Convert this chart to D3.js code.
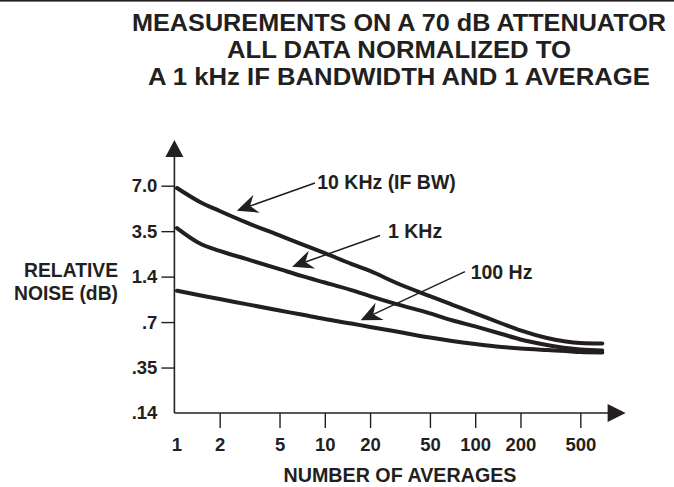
<!DOCTYPE html>
<html><head><meta charset="utf-8">
<script src="https://cdn.jsdelivr.net/npm/d3@7"></script>
<style>body{margin:0;background:#fff}svg{display:block;font-family:"Liberation Sans",Arial,Helvetica,sans-serif;font-weight:bold}</style>
</head><body><svg id="c" width="674" height="487"></svg>
<script>
// ---- data ----
const titleLines = ["MEASUREMENTS ON A 70 dB ATTENUATOR", "ALL DATA NORMALIZED TO", "A 1 kHz IF BANDWIDTH AND 1 AVERAGE"];
const averages  = [1.04, 1.5, 2, 3, 5, 7, 10, 15, 20, 30, 50, 70, 100, 150, 200, 300, 400, 500, 700];
const noise10k  = [6.76, 5.42, 4.76, 4.00, 3.21, 2.70, 2.25, 1.81, 1.57, 1.27, 1.04, 0.915, 0.80, 0.685, 0.616, 0.549, 0.52, 0.509, 0.505];
const noise1k   = [3.67, 2.70, 2.35, 2.00, 1.63, 1.42, 1.28, 1.14, 1.04, 0.92, 0.80, 0.72, 0.655, 0.584, 0.537, 0.494, 0.472, 0.461, 0.454];
const noise100  = [1.13, 1.05, 0.995, 0.92, 0.835, 0.785, 0.733, 0.685, 0.65, 0.606, 0.553, 0.525, 0.501, 0.479, 0.468, 0.457, 0.45, 0.443, 0.44];
const xTicks = [1, 2, 5, 10, 20, 50, 100, 200, 500];
const yTicks = [7.0, 3.5, 1.4, 0.7, 0.35, 0.14];
const yTickLabels = ["7.0", "3.5", "1.4", ".7", ".35", ".14"];
const seriesNames = ["10 KHz (IF BW)", "1 KHz", "100 Hz"];
const labelAt    = [[8.9, 6.66], [26.3, 3.05], [93.3, 1.35]];
const leaderFrom = [[8.6, 7.29], [23.3, 3.21], [85.5, 1.55]];
const leaderTip  = [[2.6, 4.78], [6.07, 1.71], [17.3, 0.72]];
const xTitle = "NUMBER OF AVERAGES";
const yTitle = ["RELATIVE", "NOISE (dB)"];

// ---- layout ----
const ink = "#231f20";
const svg = d3.select("#c");
const x0 = 174.4, xEnd = 625.6, yTop = 185.7, yBot = 413;
const x = d3.scaleLog().domain([1, 1000]).range([x0, xEnd]);
const y = d3.scaleLog().domain(yTicks).range(yTicks.map((d, i) => yTop + i * (yBot - yTop) / (yTicks.length - 1)));

svg.append("rect").attr("x", 0).attr("y", 0).attr("width", 674).attr("height", 1.6).attr("fill", ink);

const tl = [534, 344, 502], tb = [31, 57.5, 85];
svg.selectAll("text.title").data(titleLines).join("text")
  .attr("class", "title").attr("x", 399).attr("y", (d, i) => tb[i])
  .attr("text-anchor", "middle").attr("font-size", 24).attr("fill", ink)
  .attr("textLength", (d, i) => tl[i]).attr("lengthAdjust", "spacingAndGlyphs")
  .text(d => d);

// axes
const yAxis = d3.axisLeft(y).tickValues(yTicks).tickSize(13).tickPadding(4)
  .tickFormat((d, i) => yTickLabels[i]);
const gy = svg.append("g").attr("transform", `translate(${x0},0)`).call(yAxis);
gy.select(".domain").remove();
gy.selectAll(".tick line").attr("stroke", ink).attr("stroke-width", 1.4)
  .filter(d => d === 0.14).remove();
gy.selectAll(".tick text").attr("font-size", 18.5).attr("fill", ink).attr("font-family", null);

const xAxis = d3.axisBottom(x).tickValues(xTicks).tickSize(15).tickPadding(9.4).tickFormat(d3.format("d"));
const gx = svg.append("g").attr("transform", `translate(0,${yBot})`).call(xAxis);
gx.select(".domain").remove();
gx.selectAll(".tick line").attr("stroke", ink).attr("stroke-width", 1.4)
  .filter(d => d === 1).remove();
gx.selectAll(".tick text").attr("font-size", 18.5).attr("fill", ink).attr("font-family", null)
  .attr("dx", d => d === 1 ? 2 : 0);

// axis lines with arrows
svg.append("line").attr("x1", x0).attr("x2", x0).attr("y1", 156).attr("y2", yBot)
  .attr("stroke", ink).attr("stroke-width", 1.6);
svg.append("line").attr("x1", x0).attr("x2", xEnd - 17).attr("y1", yBot).attr("y2", yBot)
  .attr("stroke", ink).attr("stroke-width", 1.6);
svg.append("path").attr("d", `M${x0},140 L${x0 + 9},157 L${x0 - 9},157Z`).attr("fill", ink);
svg.append("path").attr("d", `M${xEnd},${yBot} L${xEnd - 18},${yBot - 9} L${xEnd - 18},${yBot + 9}Z`).attr("fill", ink);

// axis titles
svg.selectAll("text.yt").data(yTitle).join("text").attr("class", "yt")
  .attr("x", 118).attr("y", (d, i) => 277 + i * 22.5).attr("text-anchor", "end")
  .attr("font-size", 19.3).attr("fill", ink).text(d => d);
svg.append("text").attr("x", 400).attr("y", 482).attr("text-anchor", "middle")
  .attr("font-size", 19.7).attr("fill", ink).text(xTitle);

// curves
const series = [noise10k, noise1k, noise100].map(vals => averages.map((a, i) => [a, vals[i]]));
const line = d3.line().x(d => x(d[0])).y(d => y(d[1])).curve(d3.curveMonotoneX);
svg.selectAll("path.curve").data(series).join("path").attr("class", "curve")
  .attr("d", line).attr("fill", "none").attr("stroke", ink).attr("stroke-width", 4)
  .attr("stroke-linecap", "round").attr("stroke-linejoin", "round");

// annotations
seriesNames.forEach((name, i) => {
  const fx = x(leaderFrom[i][0]), fy = y(leaderFrom[i][1]);
  const tx = x(leaderTip[i][0]), ty = y(leaderTip[i][1]);
  const ang = Math.atan2(fy - ty, fx - tx);
  const ex = tx + Math.cos(ang) * 14, ey = ty + Math.sin(ang) * 14;
  svg.append("line").attr("x1", fx).attr("y1", fy).attr("x2", ex).attr("y2", ey)
    .attr("stroke", ink).attr("stroke-width", 1.5);
  svg.append("path").attr("d", "M0,0 L21,-9.5 L14,0 L21,9.5Z").attr("fill", ink)
    .attr("transform", `translate(${tx},${ty}) rotate(${ang * 180 / Math.PI})`);
  svg.append("text").attr("x", x(labelAt[i][0])).attr("y", y(labelAt[i][1]))
    .attr("font-size", 19.5).attr("fill", ink).text(name);
});
</script></body></html>
